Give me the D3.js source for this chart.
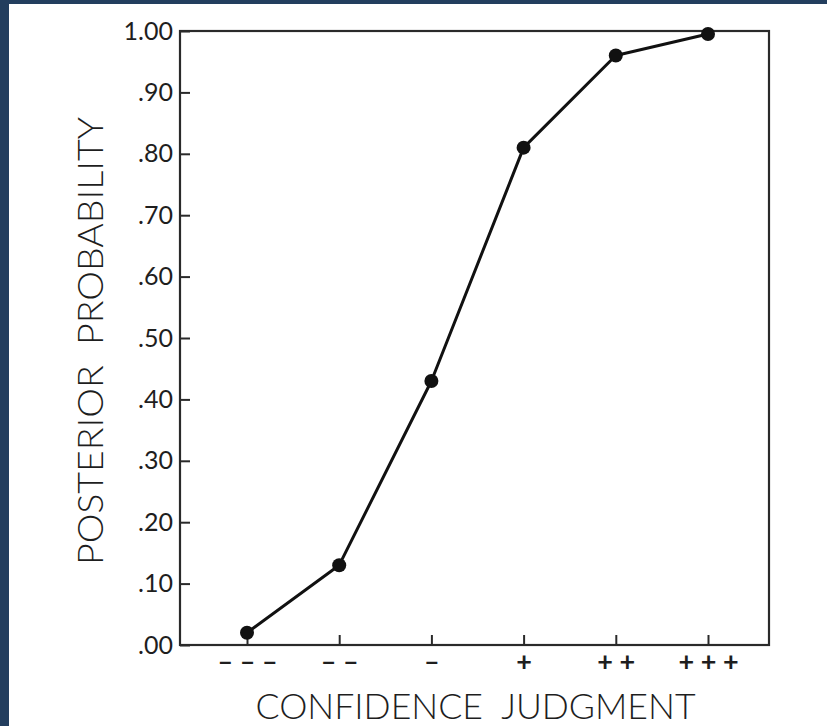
<!DOCTYPE html>
<html>
<head>
<meta charset="utf-8">
<script src="https://cdn.jsdelivr.net/npm/d3@7"></script>
<style>
  html, body { margin: 0; padding: 0; background: #fff; }
  svg { display: block; }
  text { font-family: Lato, "Open Sans", "DejaVu Sans", sans-serif; fill: #1e1e1e; }
</style>
</head>
<body>
<svg id="chart" width="827" height="726"></svg>
<script>
// Confidence judgment categories and the posterior probability for each
const categories = ["– – –", "– –", "–", "+", "+ +", "+ + +"];
const posterior = [0.02, 0.13, 0.43, 0.81, 0.96, 0.995];

// Probability axis ticks and their printed labels
const yTickValues = [0, 0.1, 0.2, 0.3, 0.4, 0.5, 0.6, 0.7, 0.8, 0.9, 1.0];
const yTickLabels = [".00", ".10", ".20", ".30", ".40", ".50", ".60", ".70", ".80", ".90", "1.00"];

const xTitle = "CONFIDENCE  JUDGMENT";
const yTitle = "POSTERIOR  PROBABILITY";

const W = 827, H = 726;
const frame = { left: 180, right: 769, top: 31, bottom: 645 };

const svg = d3.select("#chart");

// page background with the dark mat along the left and top edges
svg.append("rect").attr("width", W).attr("height", H).attr("fill", "#fff");
svg.append("rect").attr("x", 0).attr("y", 0).attr("width", 9).attr("height", H).attr("fill", "#233e5e");
svg.append("rect").attr("x", 0).attr("y", 0).attr("width", W).attr("height", 4).attr("fill", "#233e5e");

const x = d3.scalePoint()
  .domain(categories)
  .range([frame.left + 67, frame.right - 61]);

const y = d3.scaleLinear()
  .domain([0, 1])
  .range([frame.bottom, frame.top]);

// plot frame
svg.append("rect")
  .attr("x", frame.left).attr("y", frame.top)
  .attr("width", frame.right - frame.left)
  .attr("height", frame.bottom - frame.top)
  .attr("fill", "none")
  .attr("stroke", "#2a2a2a")
  .attr("stroke-width", 2.2);

// left axis: inward ticks, decimal labels
const yAxis = d3.axisLeft(y)
  .tickValues(yTickValues)
  .tickSize(-10)
  .tickPadding(7)
  .tickFormat((d, i) => yTickLabels[i]);

const gy = svg.append("g")
  .attr("transform", `translate(${frame.left},0)`)
  .call(yAxis);
gy.select(".domain").remove();
gy.selectAll(".tick line").attr("stroke", "#2a2a2a").attr("stroke-width", 2);
gy.selectAll(".tick text")
  .style("font-size", "25px")
  .style("font-weight", 400)
  .attr("fill", "#1e1e1e");

// bottom axis: inward ticks, symbol labels
const xAxis = d3.axisBottom(x)
  .tickSize(-10)
  .tickPadding(7);

const gx = svg.append("g")
  .attr("transform", `translate(0,${frame.bottom})`)
  .call(xAxis);
gx.select(".domain").remove();
gx.selectAll(".tick line").attr("stroke", "#2a2a2a").attr("stroke-width", 2);
gx.selectAll(".tick text")
  .style("font-size", "27px")
  .style("font-weight", 700)
  .attr("fill", "#1e1e1e");

// axis titles
svg.append("text")
  .attr("x", (frame.left + frame.right) / 2 + 1)
  .attr("y", 719)
  .attr("text-anchor", "middle")
  .attr("textLength", 440)
  .attr("lengthAdjust", "spacingAndGlyphs")
  .style("font-size", "36px")
  .style("font-weight", 300)
  .style("white-space", "pre")
  .text(xTitle);

svg.append("text")
  .attr("transform", "translate(103,341) rotate(-90)")
  .attr("text-anchor", "middle")
  .attr("textLength", 448)
  .attr("lengthAdjust", "spacingAndGlyphs")
  .style("font-size", "36px")
  .style("font-weight", 300)
  .style("white-space", "pre")
  .text(yTitle);

// data line and markers
const line = d3.line()
  .x((d, i) => x(categories[i]))
  .y(d => y(d));

svg.append("path")
  .datum(posterior)
  .attr("d", line)
  .attr("fill", "none")
  .attr("stroke", "#111")
  .attr("stroke-width", 3)
  .attr("stroke-linejoin", "round");

svg.selectAll("circle.pt")
  .data(posterior)
  .join("circle")
  .attr("class", "pt")
  .attr("cx", (d, i) => x(categories[i]))
  .attr("cy", d => y(d))
  .attr("r", 7)
  .attr("fill", "#111");
</script>
</body>
</html>
